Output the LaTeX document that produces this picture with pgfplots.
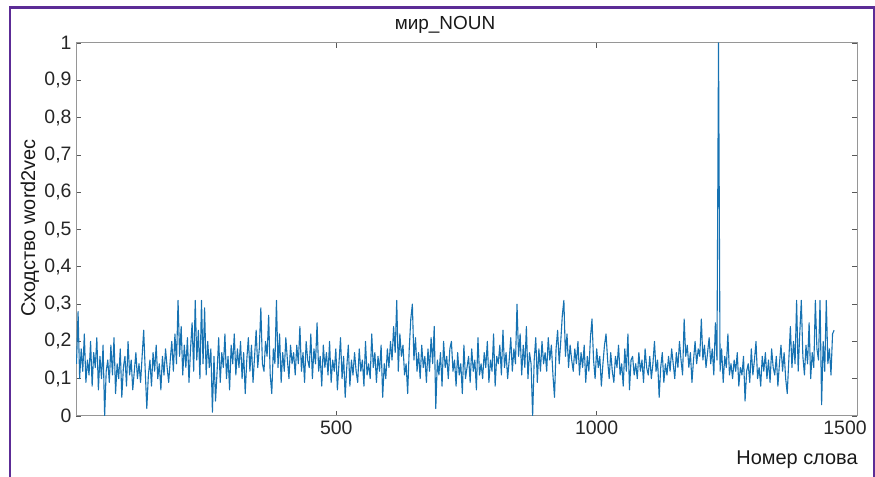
\documentclass[border=0pt]{standalone}
\usepackage{pgfplots}
\pgfplotsset{compat=1.18}
\usepackage{fontspec}
\setmainfont{Liberation Sans}
\definecolor{frame}{RGB}{92,44,150}
\definecolor{mblue}{RGB}{22,114,178}
\definecolor{axgray}{RGB}{150,150,150}
\begin{document}
\begin{tikzpicture}[x=1bp,y=1bp]
\path[use as bounding box] (0,0) rectangle (875,477);
\draw[frame, line width=2.6bp] (9.8,0) -- (9.8,469.5) -- (874,469.5) -- (874,0);
\begin{axis}[
  at={(76bp,61bp)}, anchor=south west,
  scale only axis, width=781bp, height=373bp,
  xmin=0, xmax=1500, ymin=0, ymax=1,
  xtick={500,1000,1500},
  xticklabels={500,1000,\hspace*{-24bp}1500},
  ytick={0,0.1,0.2,0.3,0.4,0.5,0.6,0.7,0.8,0.9,1},
  yticklabels={0,{0,1},{0,2},{0,3},{0,4},{0,5},{0,6},{0,7},{0,8},{0,9},1},
  tick align=inside, major tick length=5bp,
  tick style={color=black!65, line width=0.6bp},
  axis line style={color=axgray, line width=1bp},
  ticklabel style={font=\fontsize{19.5}{21}\selectfont, text=black!85},
  xticklabel style={yshift=-1bp},
  yticklabel style={xshift=-1bp},
  clip=true,
]
\addplot[mblue, line width=1.1bp, line join=round] table[row sep=\\] {
x y\\
1 0.14\\ 4 0.28\\ 7 0.10\\ 10 0.18\\ 13 0.12\\ 16 0.22\\ 19 0.09\\ 22 0.15\\ 25 0.11\\ 28 0.20\\ 31 0.08\\ 34 0.17\\ 37 0.13\\ 40 0.21\\ 43 0.07\\ 46 0.16\\ 49 0.10\\ 52 0.19\\ 55 0.00\\ 58 0.12\\
61 0.15\\ 64 0.09\\ 67 0.19\\ 70 0.11\\ 73 0.21\\ 76 0.06\\ 79 0.14\\ 82 0.10\\ 85 0.18\\ 88 0.05\\ 91 0.13\\ 94 0.16\\ 97 0.08\\ 100 0.20\\ 103 0.11\\ 106 0.15\\ 109 0.07\\ 112 0.12\\ 115 0.17\\ 118 0.10\\
121 0.14\\ 124 0.09\\ 127 0.16\\ 130 0.23\\ 133 0.12\\ 136 0.02\\ 139 0.11\\ 142 0.15\\ 145 0.08\\ 148 0.17\\ 151 0.12\\ 154 0.19\\ 157 0.10\\ 160 0.14\\ 163 0.07\\ 166 0.16\\ 169 0.11\\ 172 0.18\\ 175 0.13\\ 178 0.09\\
181 0.15\\ 184 0.20\\ 187 0.12\\ 190 0.22\\ 193 0.14\\ 196 0.31\\ 199 0.16\\ 202 0.24\\ 205 0.11\\ 208 0.19\\ 211 0.13\\ 214 0.21\\ 217 0.09\\ 220 0.18\\ 223 0.25\\ 226 0.12\\ 229 0.31\\ 232 0.15\\ 235 0.23\\ 238 0.10\\
241 0.31\\ 244 0.14\\ 247 0.29\\ 250 0.11\\ 253 0.20\\ 256 0.13\\ 259 0.18\\ 262 0.01\\ 265 0.16\\ 268 0.04\\ 271 0.12\\ 274 0.21\\ 277 0.09\\ 280 0.17\\ 283 0.13\\ 286 0.22\\ 289 0.10\\ 292 0.16\\ 295 0.07\\ 298 0.19\\
301 0.14\\ 304 0.22\\ 307 0.11\\ 310 0.18\\ 313 0.13\\ 316 0.20\\ 319 0.10\\ 322 0.17\\ 325 0.06\\ 328 0.15\\ 331 0.21\\ 334 0.12\\ 337 0.19\\ 340 0.09\\ 343 0.16\\ 346 0.23\\ 349 0.13\\ 352 0.18\\ 355 0.29\\ 358 0.14\\
361 0.12\\ 364 0.20\\ 367 0.16\\ 370 0.27\\ 373 0.11\\ 376 0.06\\ 379 0.18\\ 382 0.14\\ 385 0.31\\ 388 0.13\\ 391 0.22\\ 394 0.09\\ 397 0.17\\ 400 0.12\\ 403 0.21\\ 406 0.15\\ 409 0.10\\ 412 0.19\\ 415 0.14\\ 418 0.17\\
421 0.11\\ 424 0.19\\ 427 0.14\\ 430 0.24\\ 433 0.12\\ 436 0.17\\ 439 0.09\\ 442 0.20\\ 445 0.15\\ 448 0.13\\ 451 0.22\\ 454 0.10\\ 457 0.18\\ 460 0.14\\ 463 0.25\\ 466 0.12\\ 469 0.16\\ 472 0.08\\ 475 0.19\\ 478 0.13\\
481 0.17\\ 484 0.11\\ 487 0.20\\ 490 0.09\\ 493 0.15\\ 496 0.12\\ 499 0.18\\ 502 0.07\\ 505 0.14\\ 508 0.21\\ 511 0.10\\ 514 0.16\\ 517 0.05\\ 520 0.13\\ 523 0.19\\ 526 0.08\\ 529 0.15\\ 532 0.11\\ 535 0.17\\ 538 0.12\\
541 0.09\\ 544 0.18\\ 547 0.12\\ 550 0.15\\ 553 0.08\\ 556 0.20\\ 559 0.11\\ 562 0.14\\ 565 0.10\\ 568 0.22\\ 571 0.13\\ 574 0.17\\ 577 0.09\\ 580 0.16\\ 583 0.12\\ 586 0.19\\ 589 0.05\\ 592 0.14\\ 595 0.10\\ 598 0.18\\
601 0.13\\ 604 0.20\\ 607 0.15\\ 610 0.24\\ 613 0.17\\ 616 0.31\\ 619 0.12\\ 622 0.22\\ 625 0.16\\ 628 0.19\\ 631 0.11\\ 634 0.14\\ 637 0.06\\ 640 0.18\\ 643 0.26\\ 646 0.30\\ 649 0.15\\ 652 0.21\\ 655 0.12\\ 658 0.17\\
661 0.10\\ 664 0.19\\ 667 0.13\\ 670 0.16\\ 673 0.09\\ 676 0.18\\ 679 0.12\\ 682 0.21\\ 685 0.14\\ 688 0.24\\ 691 0.02\\ 694 0.15\\ 697 0.11\\ 700 0.17\\ 703 0.08\\ 706 0.20\\ 709 0.13\\ 712 0.16\\ 715 0.10\\ 718 0.18\\
721 0.20\\ 724 0.12\\ 727 0.15\\ 730 0.08\\ 733 0.17\\ 736 0.11\\ 739 0.14\\ 742 0.06\\ 745 0.19\\ 748 0.10\\ 751 0.13\\ 754 0.16\\ 757 0.09\\ 760 0.18\\ 763 0.12\\ 766 0.15\\ 769 0.07\\ 772 0.21\\ 775 0.11\\ 778 0.14\\
781 0.10\\ 784 0.17\\ 787 0.13\\ 790 0.20\\ 793 0.09\\ 796 0.15\\ 799 0.12\\ 802 0.22\\ 805 0.08\\ 808 0.16\\ 811 0.14\\ 814 0.19\\ 817 0.11\\ 820 0.23\\ 823 0.13\\ 826 0.17\\ 829 0.10\\ 832 0.15\\ 835 0.21\\ 838 0.12\\
841 0.18\\ 844 0.14\\ 847 0.30\\ 850 0.16\\ 853 0.22\\ 856 0.11\\ 859 0.19\\ 862 0.13\\ 865 0.24\\ 868 0.10\\ 871 0.17\\ 874 0.14\\ 877 0.00\\ 880 0.15\\ 883 0.21\\ 886 0.09\\ 889 0.18\\ 892 0.12\\ 895 0.20\\ 898 0.14\\
901 0.17\\ 904 0.12\\ 907 0.21\\ 910 0.15\\ 913 0.19\\ 916 0.11\\ 919 0.05\\ 922 0.18\\ 925 0.23\\ 928 0.14\\ 931 0.20\\ 934 0.27\\ 937 0.31\\ 940 0.16\\ 943 0.22\\ 946 0.13\\ 949 0.19\\ 952 0.15\\ 955 0.12\\ 958 0.18\\
961 0.14\\ 964 0.20\\ 967 0.11\\ 970 0.17\\ 973 0.13\\ 976 0.19\\ 979 0.09\\ 982 0.16\\ 985 0.12\\ 988 0.21\\ 991 0.26\\ 994 0.15\\ 997 0.10\\ 1000 0.18\\ 1003 0.13\\ 1006 0.16\\ 1009 0.08\\ 1012 0.14\\ 1015 0.19\\ 1018 0.22\\
1021 0.15\\ 1024 0.10\\ 1027 0.17\\ 1030 0.12\\ 1033 0.09\\ 1036 0.16\\ 1039 0.13\\ 1042 0.19\\ 1045 0.11\\ 1048 0.14\\ 1051 0.08\\ 1054 0.18\\ 1057 0.12\\ 1060 0.22\\ 1063 0.07\\ 1066 0.15\\ 1069 0.16\\ 1072 0.11\\ 1075 0.14\\ 1078 0.10\\
1081 0.17\\ 1084 0.12\\ 1087 0.15\\ 1090 0.09\\ 1093 0.18\\ 1096 0.13\\ 1099 0.11\\ 1102 0.16\\ 1105 0.10\\ 1108 0.14\\ 1111 0.20\\ 1114 0.12\\ 1117 0.15\\ 1120 0.05\\ 1123 0.13\\ 1126 0.17\\ 1129 0.09\\ 1132 0.14\\ 1135 0.11\\ 1138 0.16\\
1141 0.12\\ 1144 0.18\\ 1147 0.14\\ 1150 0.10\\ 1153 0.17\\ 1156 0.13\\ 1159 0.20\\ 1162 0.15\\ 1165 0.11\\ 1168 0.26\\ 1171 0.16\\ 1174 0.19\\ 1177 0.13\\ 1180 0.17\\ 1183 0.09\\ 1186 0.15\\ 1189 0.20\\ 1192 0.14\\ 1195 0.18\\ 1198 0.16\\
1201 0.26\\ 1204 0.15\\ 1207 0.19\\ 1210 0.13\\ 1213 0.17\\ 1216 0.21\\ 1219 0.14\\ 1222 0.18\\ 1225 0.11\\ 1228 0.25\\ 1231 0.15\\ 1234 1.00\\ 1237 0.12\\ 1240 0.18\\ 1243 0.09\\ 1246 0.16\\ 1249 0.13\\ 1252 0.22\\ 1255 0.11\\ 1258 0.14\\
1261 0.10\\ 1264 0.15\\ 1267 0.12\\ 1270 0.17\\ 1273 0.08\\ 1276 0.13\\ 1279 0.11\\ 1282 0.16\\ 1285 0.04\\ 1288 0.12\\ 1291 0.14\\ 1294 0.09\\ 1297 0.18\\ 1300 0.11\\ 1303 0.15\\ 1306 0.20\\ 1309 0.10\\ 1312 0.13\\ 1315 0.08\\ 1318 0.16\\
1321 0.12\\ 1324 0.17\\ 1327 0.10\\ 1330 0.15\\ 1333 0.09\\ 1336 0.18\\ 1339 0.13\\ 1342 0.11\\ 1345 0.16\\ 1348 0.08\\ 1351 0.14\\ 1354 0.19\\ 1357 0.12\\ 1360 0.17\\ 1363 0.10\\ 1366 0.06\\ 1369 0.15\\ 1372 0.24\\ 1375 0.13\\ 1378 0.20\\
1381 0.14\\ 1384 0.31\\ 1387 0.12\\ 1390 0.22\\ 1393 0.31\\ 1396 0.16\\ 1399 0.11\\ 1402 0.19\\ 1405 0.14\\ 1408 0.25\\ 1411 0.10\\ 1414 0.17\\ 1417 0.13\\ 1420 0.31\\ 1423 0.18\\ 1426 0.15\\ 1429 0.31\\ 1432 0.03\\ 1435 0.20\\ 1438 0.12\\
1441 0.31\\ 1444 0.14\\ 1447 0.18\\ 1450 0.11\\ 1453 0.22\\ 1456 0.23\\
};
\end{axis}
\node[font=\fontsize{19}{21}\selectfont, text=black!90] at (445,452) {мир\_NOUN};
\node[font=\fontsize{20}{22}\selectfont, text=black!90, rotate=90] at (30,249) {Сходство word2vec};
\node[font=\fontsize{20}{22}\selectfont, text=black!90] at (797,17) {Номер слова};
\end{tikzpicture}
\end{document}
